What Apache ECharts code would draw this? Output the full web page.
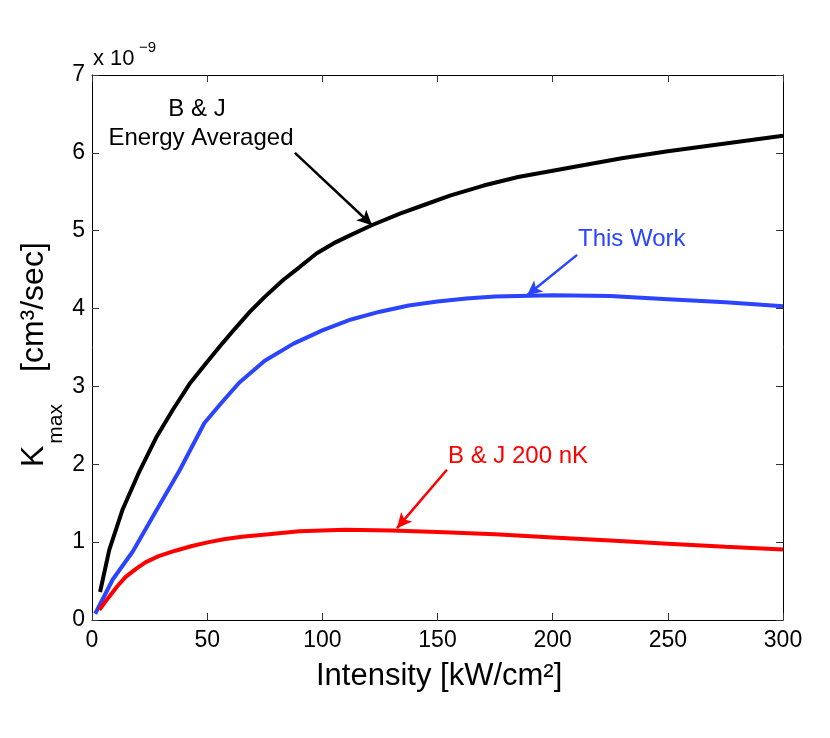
<!DOCTYPE html>
<html>
<head>
<meta charset="utf-8">
<script src="https://cdn.jsdelivr.net/npm/echarts@6/dist/echarts.min.js"></script>
<style>
html,body{margin:0;padding:0;background:#fff;}
#chart{width:830px;height:738px;}
</style>
</head>
<body>
<div id="chart"></div>
<script>
// Values in units of 1e-9 cm^3/sec
const intensityBJ = [3.5, 7.5, 13.3, 20.6, 27.8, 35.1, 42.3, 49.6, 56.8, 62, 68.6, 75, 83.1, 90, 97.6, 105, 112, 121.4, 133.7, 145, 155.4, 170, 185, 200, 215, 230, 250, 275, 300];
const kmaxBJ      = [0.36, 0.90, 1.42, 1.91, 2.34, 2.70, 3.03, 3.30, 3.56, 3.74, 3.96, 4.15, 4.37, 4.53, 4.71, 4.84, 4.94, 5.07, 5.22, 5.34, 5.45, 5.58, 5.69, 5.77, 5.85, 5.93, 6.02, 6.12, 6.22];

const intensityWork = [1.4, 9, 17.7, 27.8, 38, 48.8, 56.8, 64, 75, 87.5, 100, 112.5, 125, 137.5, 150, 162.5, 175, 200, 225, 250, 275, 300];
const kmaxWork      = [0.08, 0.52, 0.88, 1.40, 1.92, 2.53, 2.81, 3.05, 3.33, 3.55, 3.72, 3.86, 3.96, 4.04, 4.09, 4.13, 4.155, 4.17, 4.16, 4.12, 4.08, 4.03];

const intensityNK = [3.2, 7.2, 10.9, 14.5, 18.8, 23.2, 28.9, 36.2, 43.4, 50.7, 57.9, 65.1, 76.7, 90, 110, 130, 150, 175, 200, 225, 250, 275, 300];
const kmaxNK      = [0.13, 0.29, 0.43, 0.55, 0.65, 0.74, 0.82, 0.89, 0.95, 1.00, 1.04, 1.07, 1.10, 1.14, 1.16, 1.15, 1.13, 1.10, 1.06, 1.02, 0.98, 0.94, 0.905];

const xTicks = [0, 50, 100, 150, 200, 250, 300];
const yTicks = [0, 1, 2, 3, 4, 5, 6, 7];

// annotation arrows in data coordinates: [start, tip]
const arrowBJ   = [[88.1, 6.00], [121.6, 5.07]];
const arrowWork = [[210.6, 4.69], [188.9, 4.17]];
const arrowNK   = [[154.1, 1.93], [132.4, 1.18]];

const FONT = "'Liberation Sans', Arial, Helvetica, sans-serif";
const BLUE = '#2b44ff';
const RED = '#ff0000';

function pairs(xs, ys){ return xs.map((x,i)=>[x, ys[i]]); }
function arrowLine(a, color){
  return {
    silent: true,
    symbol: ['none', 'arrow'],
    symbolSize: [11, 15],
    label: {show: false},
    lineStyle: {color: color, width: 2.5, type: 'solid'},
    emphasis: {disabled: true},
    data: [[{coord: a[0]}, {coord: a[1]}]]
  };
}

const chart = echarts.init(document.getElementById('chart'), null, {renderer: 'canvas'});

const axisCommon = {
  axisLine: {show: true, onZero: false, lineStyle: {color: '#000', width: 1}},
  axisTick: {show: true, inside: true, length: 7, lineStyle: {color: '#333', width: 1}},
  splitLine: {show: false}
};

function tt(text, x, y, size, color, align){
  return {type: 'text', x: x, y: y, silent: true,
    style: {text: text, font: size + 'px ' + FONT, fill: color || '#000',
            align: align || 'left', verticalAlign: 'middle'}};
}

const option = {
  animation: false,
  backgroundColor: '#fff',
  grid: {left: 92, right: 47, top: 75, bottom: 118, containLabel: false},
  xAxis: [
    Object.assign({type: 'value', position: 'bottom', min: xTicks[0], max: xTicks[xTicks.length-1], interval: 50,
      axisLabel: {margin: 9, fontSize: 23, color: '#000', fontFamily: FONT}}, axisCommon),
    Object.assign({type: 'value', position: 'top', min: xTicks[0], max: xTicks[xTicks.length-1], interval: 50,
      axisLabel: {show: false}}, axisCommon)
  ],
  yAxis: [
    Object.assign({type: 'value', position: 'left', min: yTicks[0], max: yTicks[yTicks.length-1], interval: 1,
      axisLabel: {margin: 7, fontSize: 23, color: '#000', fontFamily: FONT}}, axisCommon),
    Object.assign({type: 'value', position: 'right', min: yTicks[0], max: yTicks[yTicks.length-1], interval: 1,
      axisLabel: {show: false}}, axisCommon)
  ],
  series: [
    {type: 'line', name: 'B & J Energy Averaged', xAxisIndex: 0, yAxisIndex: 0,
     data: pairs(intensityBJ, kmaxBJ), showSymbol: false, smooth: false,
     lineStyle: {color: '#000', width: 4}, itemStyle: {color: '#000'},
     markLine: arrowLine(arrowBJ, '#000')},
    {type: 'line', name: 'This Work', xAxisIndex: 0, yAxisIndex: 0,
     data: pairs(intensityWork, kmaxWork), showSymbol: false, smooth: false,
     lineStyle: {color: BLUE, width: 4}, itemStyle: {color: BLUE},
     markLine: arrowLine(arrowWork, BLUE)},
    {type: 'line', name: 'B & J 200 nK', xAxisIndex: 0, yAxisIndex: 0,
     data: pairs(intensityNK, kmaxNK), showSymbol: false, smooth: false,
     lineStyle: {color: RED, width: 4}, itemStyle: {color: RED},
     markLine: arrowLine(arrowNK, RED)}
  ],
  graphic: [
    // exponent label
    tt('x 10', 93, 67 - 0.35*22, 22, '#000'),
    tt('\u22129', 139, 53 - 0.35*15, 15, '#000'),
    // annotations
    tt('B & J', 197, 118 - 0.35*24, 24, '#000', 'center'),
    tt('Energy Averaged', 201, 147 - 0.35*24, 24, '#000', 'center'),
    tt('This Work', 578, 248 - 0.35*24, 24, BLUE),
    tt('B & J 200 nK', 448, 465 - 0.35*24, 24, RED),
    // x axis title
    tt('Intensity [kW/cm\u00b2]', 316, 687 - 0.35*31, 31, '#000'),
    // y axis title
    {type: 'text', x: 45 - 0.35*32, y: 467, rotation: Math.PI/2, silent: true,
     style: {text: '{m|K}{b|max}{g| }{m|[cm\u00b3/sec]}', align: 'left', verticalAlign: 'middle',
       rich: {
         m: {fontSize: 32, fontFamily: FONT, color: '#000', lineHeight: 65, verticalAlign: 'middle'},
         b: {fontSize: 21, fontFamily: FONT, color: '#000', lineHeight: 21, verticalAlign: 'bottom', padding: [0,0,0,2]},
         g: {fontSize: 10, fontFamily: FONT, width: 32, lineHeight: 10, verticalAlign: 'middle'}
       }}}
  ]
};
chart.setOption(option);
</script>
</body>
</html>
